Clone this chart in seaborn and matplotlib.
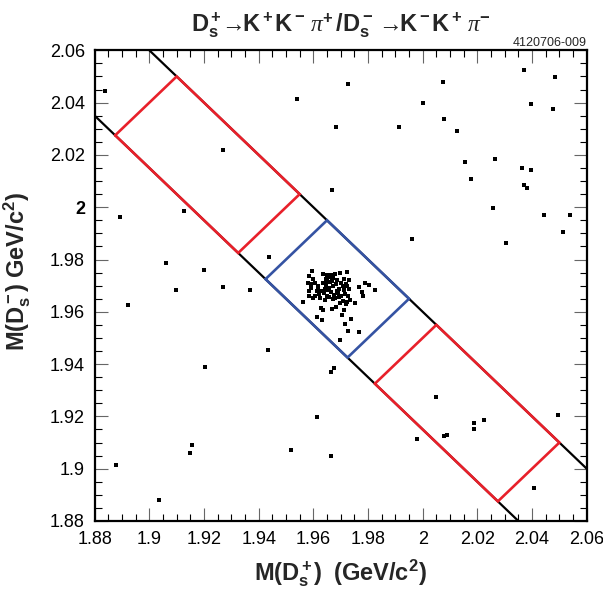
import matplotlib
matplotlib.use("Agg")
import matplotlib.pyplot as plt
import pandas as pd
import seaborn as sns

# Candidate masses (GeV/c^2): M(D_s^+) and M(D_s^-) for each event
m_dsplus = [
    # events in the signal region
    1.9594, 1.9584, 1.9598, 1.9580, 1.9593, 1.9606, 1.9591, 1.9583, 1.9563, 1.9599,
    1.9583, 1.9612, 1.9621, 1.9616, 1.9634, 1.9651, 1.9663, 1.9646, 1.9661, 1.9679,
    1.9698, 1.9722, 1.9713, 1.9732, 1.9635, 1.9645, 1.9660, 1.9668, 1.9644, 1.9658,
    1.9673, 1.9683, 1.9700, 1.9719, 1.9722, 1.9695, 1.9712, 1.9729, 1.9627, 1.9639,
    1.9649, 1.9658, 1.9671, 1.9680, 1.9693, 1.9702, 1.9717, 1.9727, 1.9707, 1.9722,
    1.9698, 1.9683, 1.9667, 1.9629, 1.9634, 1.9612, 1.9632, 1.9705, 1.9712, 1.9751,
    1.9739, 1.9715, 1.9727, 1.9767, 1.9699, 1.9766, 1.9788, 1.9805, 1.9824, 1.9778,
    1.9783, 1.9719, 1.9734, 1.9666, 1.9624, 1.9607, 1.9643, 1.9655, 1.9685, 1.9676,
    1.9690, 1.9710, 1.9649, 1.9673, 1.9688, 1.9618,
    # events elsewhere in the plane
    1.9666, 1.9677,
    1.8838, 1.9541, 1.9682, 1.9268, 1.9667, 1.8893, 1.9128, 1.9439, 1.9062, 1.9200,
    1.9726, 2.0076, 2.0370, 2.0483, 2.0000, 2.0396, 2.0477, 2.0078, 1.9915, 2.0127,
    2.0154, 2.0265, 2.0362, 2.0396, 2.0177, 2.0371, 2.0382, 2.0258, 2.0443, 2.0540,
    2.0512, 1.9962, 2.0305, 1.9368, 1.9097, 1.9271, 1.8922, 1.9434, 1.9202, 1.9614,
    1.9156, 1.9150, 1.9518, 1.9666, 1.8877, 1.9035, 2.0048, 2.0189, 2.0224, 2.0188,
    2.0077, 2.0089, 1.9978, 2.0495, 2.0406,
]
m_dsminus = [
    1.9755, 1.9738, 1.9725, 1.9710, 1.9705, 1.9710, 1.9690, 1.9678, 1.9638, 1.9652,
    1.9661, 1.9678, 1.9668, 1.9692, 1.9745, 1.9740, 1.9740, 1.9727, 1.9735, 1.9745,
    1.9748, 1.9753, 1.9727, 1.9720, 1.9712, 1.9704, 1.9713, 1.9717, 1.9687, 1.9692,
    1.9699, 1.9705, 1.9710, 1.9706, 1.9697, 1.9687, 1.9683, 1.9687, 1.9680, 1.9671,
    1.9661, 1.9655, 1.9648, 1.9651, 1.9655, 1.9662, 1.9669, 1.9659, 1.9643, 1.9638,
    1.9633, 1.9620, 1.9610, 1.9613, 1.9606, 1.9582, 1.9569, 1.9587, 1.9608, 1.9633,
    1.9572, 1.9554, 1.9527, 1.9521, 1.9492, 1.9694, 1.9710, 1.9702, 1.9683, 1.9674,
    1.9659, 1.9629, 1.9646, 1.9674, 1.9652, 1.9659, 1.9646, 1.9684, 1.9678, 1.9665,
    1.9671, 1.9697, 1.9716, 1.9729, 1.9720, 1.9697,
    1.9370, 1.9387,
    2.0443, 2.0414, 2.0306, 2.0219, 2.0066, 1.9963, 1.9986, 1.9809, 1.9786, 1.9760,
    2.0470, 2.0479, 2.0526, 2.0498, 2.0399, 2.0396, 2.0376, 2.0336, 2.0308, 2.0290,
    2.0174, 2.0185, 2.0151, 2.0143, 2.0107, 2.0085, 2.0074, 1.9996, 1.9971, 1.9971,
    1.9907, 1.9878, 1.9863, 1.9684, 1.9683, 1.9693, 1.9627, 1.9455, 1.9389, 1.9196,
    1.9092, 1.9061, 1.9072, 1.9050, 1.9015, 1.8880, 1.9276, 1.9176, 1.9186, 1.9150,
    1.9126, 1.9130, 1.9114, 1.9205, 1.8926,
]

# Selection regions in (sum, difference) of the two masses
sum_band = [3.915, 3.960]        # M(D_s^+) + M(D_s^-)
signal_diff = [-0.030, 0.030]     # M(D_s^+) - M(D_s^-)
sideband_low_diff = [-0.140, -0.050]
sideband_high_diff = [0.050, 0.140]

mass_range = [1.88, 2.06]
tick_values = [1.88, 1.90, 1.92, 1.94, 1.96, 1.98, 2.00, 2.02, 2.04, 2.06]
tick_labels = ["1.88", "1.9", "1.92", "1.94", "1.96", "1.98", "2", "2.02", "2.04", "2.06"]

df = pd.DataFrame({"mplus": m_dsplus, "mminus": m_dsminus})

sns.set_style("ticks")
plt.rcParams["font.family"] = ["Liberation Sans", "DejaVu Sans"]
plt.rcParams["mathtext.fontset"] = "custom"
plt.rcParams["mathtext.rm"] = "Liberation Sans"
plt.rcParams["mathtext.it"] = "Liberation Serif:italic"
plt.rcParams["mathtext.bf"] = "Liberation Sans:bold"

fig = plt.figure(figsize=(6.03, 5.94), dpi=100)
ax = fig.add_axes([0.1570, 0.1229, 0.8160, 0.7924])

lo, hi = mass_range

# Diagonal band edges: M+ + M- = const, clipped to the plot range
for s in sum_band:
    x0, x1 = max(lo, s - hi), min(hi, s - lo)
    ax.plot([x0, x1], [s - x0, s - x1], color="black", lw=1.6, zorder=2,
            solid_capstyle="butt")


def draw_box(diff, color):
    corners = [(sum_band[0], diff[0]), (sum_band[0], diff[1]),
               (sum_band[1], diff[1]), (sum_band[1], diff[0]),
               (sum_band[0], diff[0])]
    xs = [(s + d) / 2 for s, d in corners]
    ys = [(s - d) / 2 for s, d in corners]
    ax.plot(xs, ys, color=color, lw=1.9, zorder=3, solid_joinstyle="miter")


draw_box(sideband_low_diff, "#e8202a")
draw_box(sideband_high_diff, "#e8202a")
draw_box(signal_diff, "#3553a3")

sns.scatterplot(data=df, x="mplus", y="mminus", marker="s", s=5,
                color="black", linewidth=0, ax=ax, legend=False, zorder=4)

ax.set_xlim(lo, hi)
ax.set_ylim(lo, hi)
ax.set_xticks(tick_values)
ax.set_yticks(tick_values)
ax.set_xticklabels(tick_labels)
ax.set_yticklabels(tick_labels)
for lab in ax.get_yticklabels():
    if lab.get_text() == "2":
        lab.set_fontweight("bold")
ax.xaxis.set_minor_locator(matplotlib.ticker.MultipleLocator(0.005))
ax.yaxis.set_minor_locator(matplotlib.ticker.MultipleLocator(0.005))
ax.tick_params(which="both", direction="in", top=True, right=True,
               labelsize=13, colors="black")
ax.tick_params(which="major", length=9.5, width=0.8, color="#666666", pad=7)
ax.tick_params(which="minor", length=5, width=0.8, color="black")
for sp in ax.spines.values():
    sp.set_linewidth(1.6)
    sp.set_color("black")

ax.set_xlabel(r"$\mathbf{M(D_s^+)\ \ (GeV/c^2)}$", fontsize=17, labelpad=7)
ax.set_ylabel(r"$\mathbf{M(D_s^-)\ GeV/c^2)}$", fontsize=17)
ax.yaxis.set_label_coords(-0.125, 0.53)

fig.text(0.5657, 0.958,
         r"$\mathbf{D_s^+\!\!\rightarrow\!\!K^+K^-\,}\mathit{\pi}^\mathbf{+}"
         r"\mathbf{\,/D_s^-\,\!\rightarrow\!\!K^-K^+\,}\mathit{\pi}^\mathbf{-}$",
         ha="center", va="center", fontsize=17)
fig.text(0.973, 1 - 43 / 594, "4120706-009", ha="right", va="center", fontsize=9)

fig.savefig("out.png", dpi=100)
